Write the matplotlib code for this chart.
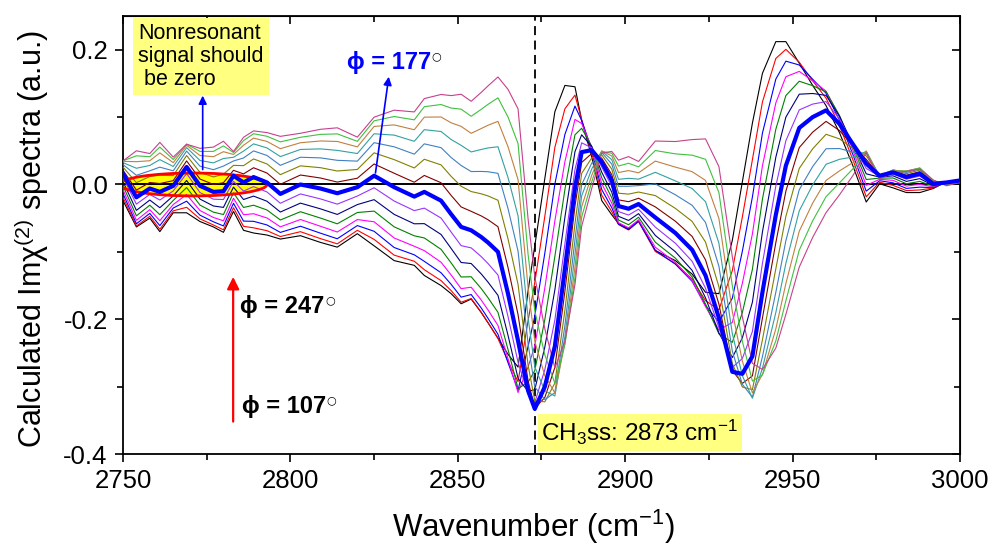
import numpy as np
import matplotlib
matplotlib.use("Agg")
import matplotlib.pyplot as plt
from matplotlib.patches import Ellipse
from matplotlib.ticker import MultipleLocator

plt.rcParams['font.family'] = ['Liberation Sans', 'DejaVu Sans']
plt.rcParams['mathtext.fontset'] = 'custom'
plt.rcParams['mathtext.rm'] = 'Liberation Sans'
plt.rcParams['mathtext.it'] = 'Liberation Sans:italic'
plt.rcParams['mathtext.bf'] = 'Liberation Sans:bold'

# spectra: thick blue (phi = 177) and lowest black (phi = 107)
wavenumber = [2750, 2754, 2758, 2761, 2765, 2769, 2773, 2777, 2780, 2783, 2786, 2789,
              2793, 2797, 2803, 2809, 2814, 2820, 2825, 2831, 2837, 2840, 2845, 2848,
              2851, 2854, 2857, 2859, 2862, 2865, 2868, 2871, 2873, 2876, 2879, 2882,
              2885, 2887, 2890, 2893, 2896, 2898, 2901, 2904, 2909, 2915, 2920, 2924,
              2928, 2932, 2935, 2938, 2941, 2945, 2948, 2952, 2956, 2960, 2964, 2968,
              2972, 2976, 2980, 2984, 2988, 2992, 2996, 3000]
im_chi_177 = [0.016, -0.019, -0.006, -0.011, -0.002, 0.026, -0.002, -0.011, -0.010, 0.013, 0.003, 0.011,
              0.003, -0.014, 0.000, -0.006, -0.013, -0.004, 0.013, -0.004, -0.018, -0.011, -0.024, -0.044,
              -0.063, -0.068, -0.078, -0.086, -0.100, -0.162, -0.232, -0.306, -0.333, -0.300, -0.240, -0.125,
              -0.005, 0.048, 0.051, 0.033, 0.006, -0.032, -0.036, -0.029, -0.049, -0.072, -0.097, -0.135,
              -0.198, -0.278, -0.281, -0.255, -0.160, -0.045, 0.028, 0.084, 0.100, 0.110, 0.090, 0.060,
              0.031, 0.013, 0.018, 0.011, 0.016, 0.001, 0.003, 0.006]
im_chi_107 = [-0.024, -0.063, -0.050, -0.070, -0.042, -0.042, -0.055, -0.063, -0.071, -0.040, -0.068, -0.072,
              -0.075, -0.081, -0.076, -0.086, -0.093, -0.073, -0.091, -0.113, -0.120, -0.135, -0.150, -0.162,
              -0.177, -0.170, -0.190, -0.205, -0.228, -0.252, -0.271, -0.158, -0.091, 0.009, 0.108, 0.147,
              0.145, 0.095, 0.041, -0.024, -0.045, -0.058, -0.066, -0.054, -0.098, -0.113, -0.133, -0.160,
              -0.162, -0.083, 0.004, 0.091, 0.165, 0.212, 0.212, 0.180, 0.147, 0.117, 0.077, 0.028,
              -0.026, 0.001, -0.005, -0.012, -0.012, -0.006, 0.004, 0.001]

phases = [107, 117, 127, 137, 147, 157, 167, 177, 187, 197, 207, 217, 227, 237, 247]
colors = ['#000000', '#FF0000', '#0000FF', '#FF00FF', '#008000', '#000080', '#9933FF', '#0000FF',
          '#800000', '#808000', '#4080C0', '#33A0A0', '#C0803F', '#40C040', '#C8408C']

x = np.array(wavenumber)
c = np.array(im_chi_177)
b = np.array(im_chi_107)
# the curves are one spectrum seen at different phases: y = C cos(t) + S sin(t), t = phi - 177
t0 = np.deg2rad(107 - 177)
s = (b - c * np.cos(t0)) / np.sin(t0)

fig = plt.figure(figsize=(9.92, 5.47), dpi=100)
ax = fig.add_axes([0.124, 0.17, 0.8437, 0.8007])

ell = Ellipse((2771, 0.0), 44, 0.034, facecolor='#FFFF00', edgecolor='none', zorder=1)
ax.add_patch(ell)
ell2 = Ellipse((2771, 0.0), 44, 0.034, facecolor='none', edgecolor='#FF0000', lw=2.0, zorder=4)
ax.add_patch(ell2)

for phi, col in zip(phases, colors):
    t = np.deg2rad(phi - 177)
    y = c * np.cos(t) + s * np.sin(t)
    if phi == 177:
        ax.plot(x, y, color=col, lw=3.0, zorder=5)
    else:
        ax.plot(x, y, color=col, lw=0.8, zorder=3)

ax.axhline(0, color='black', lw=1.4, zorder=2)
ax.axvline(2873, color='black', lw=1.3, ls=(0, (5, 3)), zorder=2)

ax.set_xlim(2750, 3000)
ax.set_ylim(-0.4, 0.25)
ax.xaxis.set_major_locator(MultipleLocator(50))
ax.xaxis.set_minor_locator(MultipleLocator(25))
ax.yaxis.set_major_locator(MultipleLocator(0.2))
ax.yaxis.set_minor_locator(MultipleLocator(0.1))
ax.set_yticks([-0.4, -0.2, 0.0, 0.2])
ax.set_yticklabels(['-0.4', '-0.2', '0.0', '0.2'])
ax.tick_params(which='major', direction='out', length=6, width=1.2, labelsize=18.5, pad=5)
ax.tick_params(which='minor', direction='out', length=4, width=1.2)
for sp in ax.spines.values():
    sp.set_linewidth(1.3)

top = ax.secondary_xaxis('top')
top.xaxis.set_major_locator(MultipleLocator(50))
top.xaxis.set_minor_locator(MultipleLocator(25))
top.tick_params(which='both', direction='in', labeltop=False, width=1.2)
top.tick_params(which='major', length=6)
top.tick_params(which='minor', length=4)
right = ax.secondary_yaxis('right')
right.yaxis.set_major_locator(MultipleLocator(0.2))
right.yaxis.set_minor_locator(MultipleLocator(0.1))
right.tick_params(which='both', direction='in', labelright=False, width=1.2)
right.tick_params(which='major', length=6)
right.tick_params(which='minor', length=4)

ax.set_xlabel('Wavenumber (cm$^{-1}$)', fontsize=22.5)
ax.xaxis.set_label_coords(0.49, -0.122)
ax.set_ylabel('Calculated Im\u03c7$^{(2)}$ spectra (a.u.)', fontsize=22)
ax.yaxis.set_label_coords(-0.086, 0.49)

# annotations
ax.text(2754.5, 0.19, 'Nonresonant\nsignal should\n be zero', fontsize=15.5, ha='left', va='center',
        linespacing=1.1, zorder=6,
        bbox=dict(boxstyle='square,pad=0.25', fc='#FFFF80', ec='none'))
ax.annotate('', xy=(2773.8, 0.136), xytext=(2773.8, 0.018),
            arrowprops=dict(arrowstyle='-|>', color='#0000FF', lw=1.2, mutation_scale=12), zorder=6)

t177 = ax.text(2816.8, 0.181, '\u03d5 = 177', fontsize=17, fontweight='bold', color='#0000FF',
               ha='left', va='center', zorder=6)
ax.annotate('', xy=(2829.5, 0.164), xytext=(2825.3, 0.013),
            arrowprops=dict(arrowstyle='-|>', color='#0000FF', lw=1.2, mutation_scale=12), zorder=6)

t247 = ax.text(2785, -0.181, '\u03d5 = 247', fontsize=17, fontweight='bold', color='black',
               ha='left', va='center', zorder=6)
t107 = ax.text(2785.5, -0.330, '\u03d5 = 107', fontsize=17, fontweight='bold', color='black',
               ha='left', va='center', zorder=6)
for t in (t177, t247, t107):
    ax.annotate('\u25cb', xy=(1, 1), xycoords=t, xytext=(0.5, 0), textcoords='offset points',
                fontsize=8, ha='left', va='top', color='black', zorder=6,
                family=['DejaVu Sans'])

ax.annotate('', xy=(2782.9, -0.133), xytext=(2782.9, -0.356),
            arrowprops=dict(arrowstyle='-|>', color='#FF0000', lw=1.6, mutation_scale=18), zorder=6)

ax.text(2875.0, -0.368, 'CH$_3$ss: 2873 cm$^{-1}$', fontsize=17.5, ha='left', va='center', zorder=6,
        bbox=dict(boxstyle='square,pad=0.15', fc='#FFFF80', ec='none'))

fig.savefig('out.png', dpi=100)
